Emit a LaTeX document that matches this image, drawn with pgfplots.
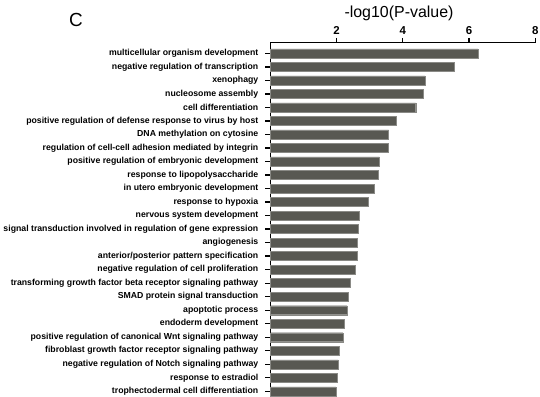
\documentclass[border=0pt]{standalone}
\usepackage{pgfplots}
\pgfplotsset{compat=1.18}
\usepackage{fontspec}
\setmainfont{Liberation Sans}
\definecolor{barc}{RGB}{88,88,82}
\begin{document}
\begin{tikzpicture}
\begin{axis}[
 at={(0,0)}, anchor=south west,
 scale only axis, width=265bp, height=354.2bp,
 xmin=0, xmax=8, ymin=0.58, ymax=26.78,
 axis x line*=top, axis y line*=left,
 xtick={2,4,6,8}, ytick={1,...,26},
 yticklabels={trophectodermal cell differentiation,response to estradiol,negative regulation of Notch signaling pathway,fibroblast growth factor receptor signaling pathway,positive regulation of canonical Wnt signaling pathway,endoderm development,apoptotic process,SMAD protein signal transduction,transforming growth factor beta receptor signaling pathway,negative regulation of cell proliferation,anterior/posterior pattern specification,angiogenesis,signal transduction involved in regulation of gene expression,nervous system development,response to hypoxia,in utero embryonic development,response to lipopolysaccharide,positive regulation of embryonic development,regulation of cell-cell adhesion mediated by integrin,DNA methylation on cytosine,positive regulation of defense response to virus by host,cell differentiation,nucleosome assembly,xenophagy,negative regulation of transcription,multicellular organism development},
 tick align=outside,
 major tick length=5bp,
 axis line style={line width=1.3bp, black},
 every tick/.style={line width=1.3bp, black},
 xbar, bar width=9bp,
 /pgf/number format/assume math mode=true,
 xticklabel style={font=\fontsize{11.5}{13}\selectfont\bfseries},
 yticklabel style={font=\fontsize{8.75}{10}\selectfont\bfseries, xshift=-3.5bp},
 clip=false,
]
\addplot[fill=barc, draw=barc!70!white, line width=0.4bp] coordinates {
(1.98,1) (2.02,2) (2.05,3) (2.08,4) (2.19,5) (2.23,6) (2.32,7) (2.35,8) (2.42,9) (2.56,10) (2.62,11) (2.63,12) (2.65,13) (2.68,14) (2.97,15) (3.15,16) (3.26,17) (3.29,18) (3.56,19) (3.57,20) (3.81,21) (4.39,22) (4.62,23) (4.67,24) (5.56,25) (6.27,26)
};
\end{axis}
\node[font=\fontsize{16}{18}\selectfont] at (128.7bp, 384bp) {-log10(P-value)};
\node[font=\fontsize{19}{20}\selectfont] at (-194.3bp, 377bp) {C};
\pgfresetboundingbox
\path (-270.3bp,0) rectangle (269.7bp,397bp);
\end{tikzpicture}
\end{document}
